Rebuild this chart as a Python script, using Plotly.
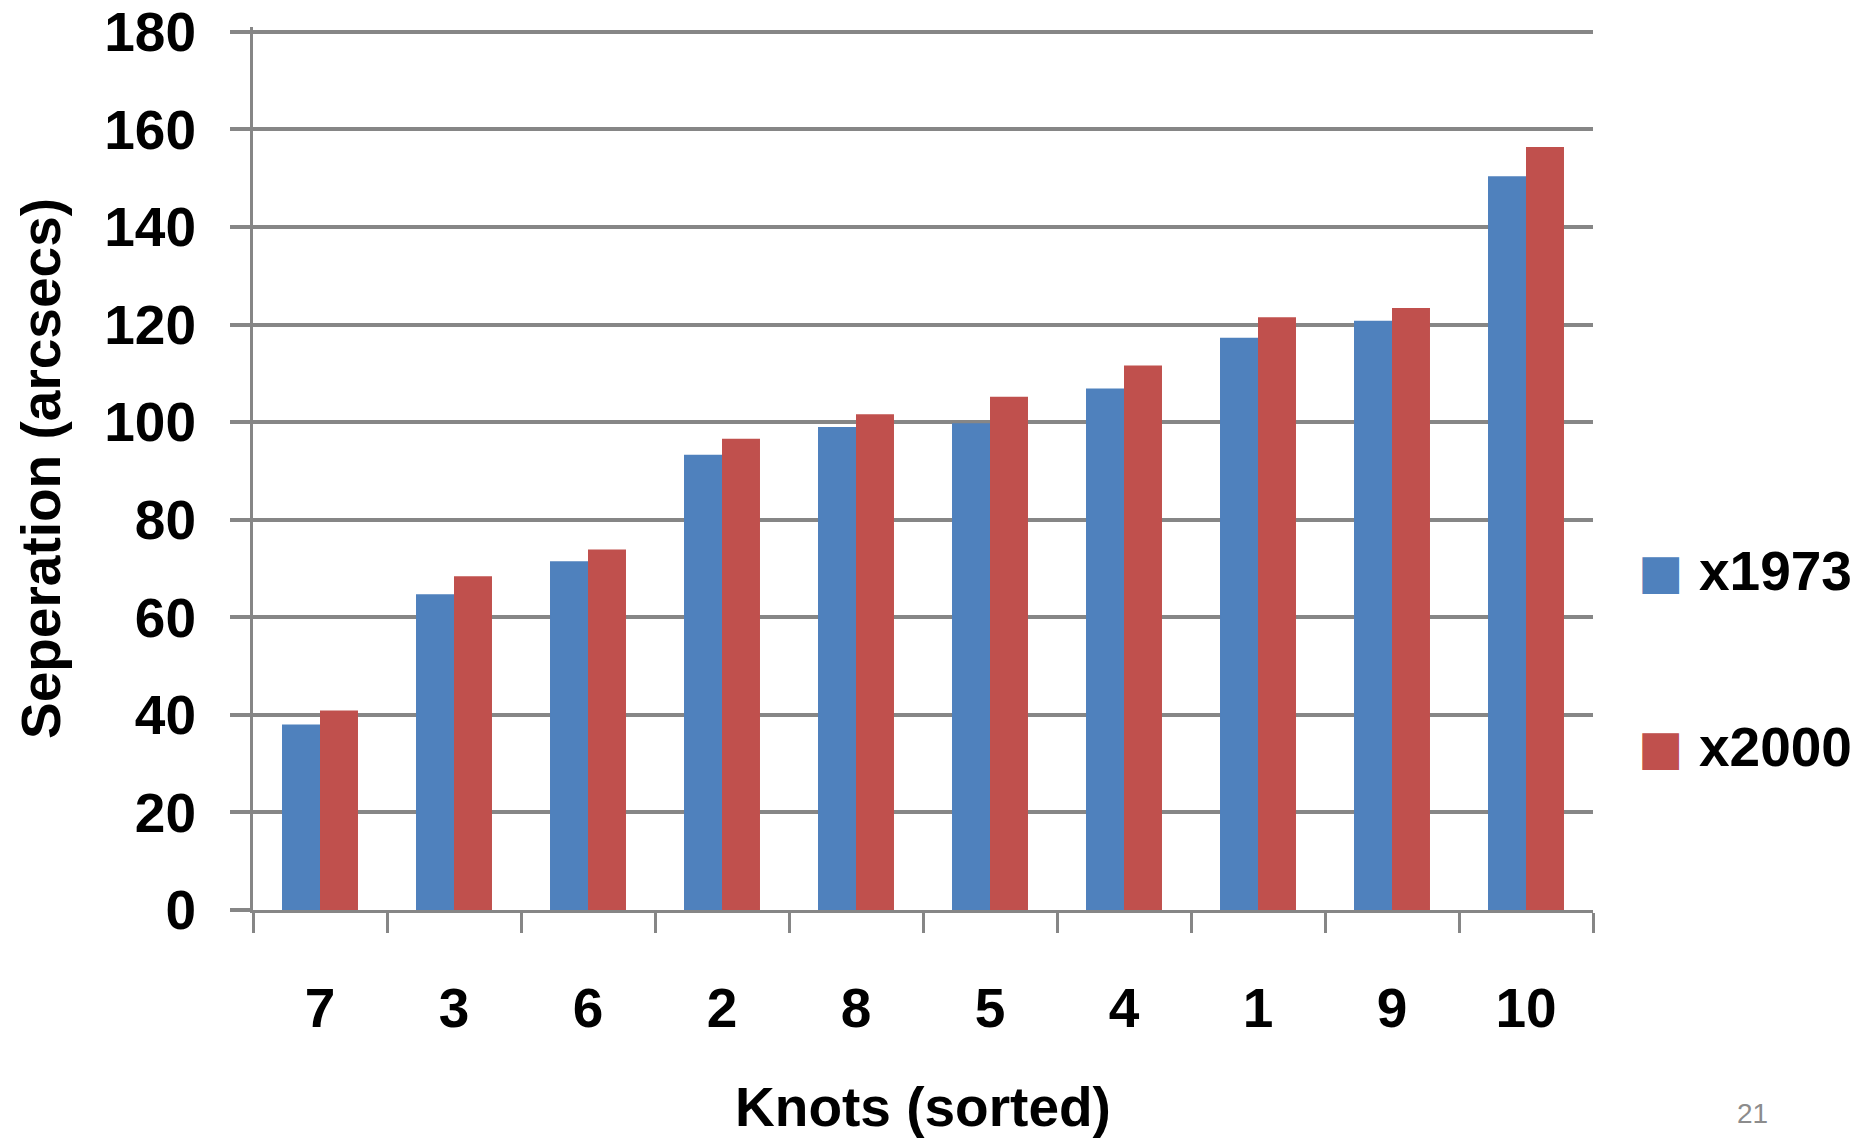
import plotly.graph_objects as go

knots = ["7", "3", "6", "2", "8", "5", "4", "1", "9", "10"]
x1973 = [38.0, 64.7, 71.5, 93.3, 99.0, 99.8, 106.9, 117.3, 120.8, 150.4]
x2000 = [40.9, 68.4, 73.9, 96.6, 101.6, 105.2, 111.6, 121.5, 123.4, 156.4]
series_names = ["x1973", "x2000"]
series_colors = ["#4F81BD", "#C0504D"]
y_ticks = [0, 20, 40, 60, 80, 100, 120, 140, 160, 180]

FONT = "Liberation Sans, Arial, sans-serif"
GRID = "#868686"

fig = go.Figure()
for name, vals, col in zip(series_names, [x1973, x2000], series_colors):
    fig.add_trace(go.Bar(x=knots, y=vals, name=name, marker=dict(color=col, line=dict(width=0)),
                         showlegend=False))

fig.update_layout(
    width=1860, height=1139,
    margin=dict(l=253, r=267, t=27, b=229),
    paper_bgcolor="white", plot_bgcolor="white",
    barmode="group", bargap=0.433, bargroupgap=0,
    font=dict(family=FONT, size=55, color="black", weight="bold"),
)

fig.update_xaxes(
    type="category", showgrid=False, showline=True, linecolor=GRID, linewidth=3,
    ticks="outside", tickson="boundaries", ticklen=20, tickwidth=3, tickcolor=GRID,
    tickfont=dict(family=FONT, size=55, color="black", weight="bold"),
    ticklabelstandoff=48,
    title=dict(text="Knots (sorted)", font=dict(family=FONT, size=55, color="black", weight="bold"), standoff=50),
    automargin=False,
)
fig.update_yaxes(
    range=[0, 181], tickvals=y_ticks, showgrid=True, gridcolor=GRID, gridwidth=4,
    showline=True, linecolor=GRID, linewidth=3, zeroline=False,
    ticks="outside", ticklen=20, tickwidth=4, tickcolor=GRID,
    tickfont=dict(family=FONT, size=55, color="black", weight="bold"),
    ticklabelstandoff=23, ticklabeloverflow="allow",
    title=dict(text="Seperation (arcsecs)", font=dict(family=FONT, size=55, color="black", weight="bold"), standoff=26),
    automargin=False,
)

# Legend (drawn as text so the keys can be large like the original)
legend_y = [0.3838, 0.1845]
for name, col, ly in zip(series_names, series_colors, legend_y):
    fig.add_annotation(xref="paper", yref="paper", x=1.0507, y=ly, xanchor="center", yanchor="middle",
                       text="■", showarrow=False, font=dict(family="DejaVu Sans", size=48, color=col))
    fig.add_annotation(xref="paper", yref="paper", x=1.0776, y=ly, xanchor="left", yanchor="middle",
                       text=name, showarrow=False, font=dict(family=FONT, size=55, color="black", weight="bold"))

fig.add_annotation(xref="paper", yref="paper", x=1.1194, y=-0.230, xanchor="center", yanchor="middle",
                   text="21", showarrow=False, font=dict(family=FONT, size=28, color="#8c8c8c", weight="normal"))

fig.write_html("out.html", config={"displayModeBar": False},
               post_script="document.body.style.margin='0';document.body.style.overflow='hidden';")
